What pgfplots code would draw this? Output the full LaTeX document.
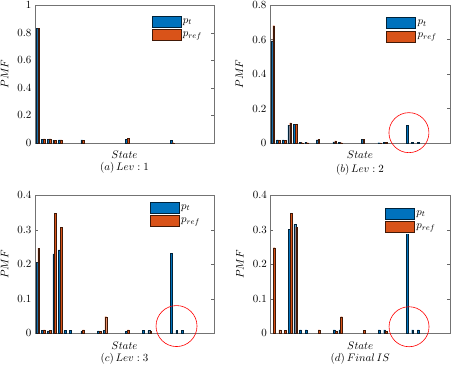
\documentclass[border=0pt]{standalone}
\usepackage{pgfplots}
\pgfplotsset{compat=1.18}
\definecolor{mblue}{rgb}{0,0.447,0.741}
\definecolor{morange}{rgb}{0.85,0.325,0.098}

\pgfplotsset{
  pmf/.style={
    scale only axis, width=179pt, height=138pt,
    xmin=0.5, xmax=32.5, ymin=0,
    xtick=\empty,
    font=\fontsize{11}{13}\selectfont,
    ytick pos=both, yticklabel pos=left,
    tick align=inside, major tick length=3pt,
    tick style={black!60},
    axis line style={black!55, line width=0.6pt},
    ybar, bar width=0.32,
    clip=false,
    xlabel={$State$},
    xlabel style={at={(axis description cs:0.5,0)}, anchor=center, yshift=-12pt},
    ylabel={$PMF$},
    ylabel style={at={(axis description cs:-0.17,0.5)}, anchor=center},
    legend style={draw=none, fill=white, anchor=north east,
      row sep=2pt, inner sep=1pt},
    legend image code/.code={\draw[#1] (0pt,-5.5pt) rectangle (29pt,5.5pt);},
    legend cell align=left,
  },
  pt/.style={fill=mblue, draw=mblue!30!black, line width=0.3pt},
  pr/.style={fill=morange, draw=morange!30!black, line width=0.3pt},
}

\begin{document}
\begin{tikzpicture}
\path[use as bounding box] (0,0) rectangle (451pt,-367pt);

% (a)
\begin{axis}[pmf, at={(35pt,-143pt)}, anchor=south west,
  ymax=1, ytick={0,0.2,...,1},
  legend style={at={(0.95,0.93)}}]
\addplot[pt, bar shift=-0.16] coordinates {
  (1,0.83)(2,0.028)(3,0.027)(4,0.02)(5,0.022)(9,0.022)(17,0.025)(25,0.018)};
\addplot[pr, bar shift=0.16] coordinates {
  (1,0.83)(2,0.03)(3,0.03)(4,0.02)(5,0.022)(9,0.02)(17,0.032)(25,0.002)};
\legend{$p_t$,$p_{ref}$}
\node at (axis description cs:0.5,0) [yshift=-25pt] {$(a)\,Lev:1$};
\end{axis}

% (b)
\begin{axis}[pmf, at={(270pt,-143pt)}, anchor=south west, width=180pt,
  ymax=0.8, ytick={0,0.2,...,0.8},
  legend style={at={(0.944,0.92)}}]
\addplot[pt, bar shift=-0.16] coordinates {
  (1,0.592)(2,0.018)(3,0.018)(4,0.103)(5,0.107)(6,0.003)(7,0.003)(9,0.018)
  (12,0.006)(13,0.003)(17,0.02)(20,0.002)(21,0.004)(25,0.103)(26,0.003)(27,0.003)};
\addplot[pr, bar shift=0.16] coordinates {
  (1,0.68)(2,0.016)(3,0.016)(4,0.116)(5,0.107)(6,0.002)(7,0.002)(9,0.022)
  (12,0.012)(13,0.002)(17,0.022)(20,0.001)(21,0.003)};
\legend{$p_t$,$p_{ref}$}
\node at (axis description cs:0.5,0) [yshift=-27pt] {$(b)\,Lev:2$};
\draw[red, line width=0.6pt] (axis cs:25.2,0.06) circle[radius=20pt];
\end{axis}

% (c)
\begin{axis}[pmf, at={(35pt,-333.3pt)}, anchor=south west,
  ymax=0.4, ytick={0,0.1,...,0.4},
  legend style={at={(0.94,0.96)}}]
\addplot[pt, bar shift=-0.16] coordinates {
  (1,0.205)(2,0.008)(3,0.007)(4,0.23)(5,0.242)(6,0.008)(7,0.008)(9,0.006)
  (12,0.007)(13,0.008)(17,0.005)(20,0.008)(21,0.008)(25,0.231)(26,0.008)(27,0.008)};
\addplot[pr, bar shift=0.16] coordinates {
  (1,0.247)(2,0.01)(3,0.008)(4,0.348)(5,0.308)(9,0.01)(12,0.005)(13,0.048)
  (17,0.01)(21,0.005)};
\legend{$p_t$,$p_{ref}$}
\node at (axis description cs:0.5,0) [yshift=-25pt] {$(c)\,Lev:3$};
\draw[red, line width=0.6pt] (axis cs:25.8,0.021) circle[radius=20.5pt];
\end{axis}

% (d)
\begin{axis}[pmf, at={(270.5pt,-333.3pt)}, anchor=south west, width=179.5pt,
  ymax=0.4, ytick={0,0.1,...,0.4},
  legend style={at={(0.936,0.917)}}]
\addplot[pt, bar shift=-0.16] coordinates {
  (4,0.302)(5,0.316)(6,0.01)(7,0.01)(12,0.01)(13,0.01)(20,0.01)(21,0.01)
  (25,0.34)(26,0.01)(27,0.01)};
\addplot[pr, bar shift=0.16] coordinates {
  (1,0.248)(2,0.01)(3,0.008)(4,0.348)(5,0.308)(9,0.01)(12,0.006)(13,0.048)
  (17,0.008)(21,0.005)};
\legend{$p_t$,$p_{ref}$}
\node at (axis description cs:0.5,0) [yshift=-25pt] {$(d)\,Final\,IS$};
\draw[red, line width=0.6pt] (axis cs:25.2,0.019) circle[radius=20pt];
\end{axis}
\end{tikzpicture}
\end{document}
